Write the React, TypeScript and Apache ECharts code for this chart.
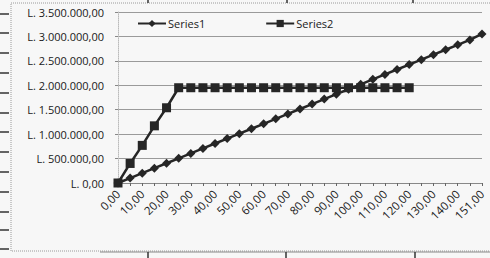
import React, { useEffect, useRef } from "react";
import * as echarts from "echarts";

const categories = [0, 5, 10, 15, 20, 25, 30, 35, 40, 45, 50, 55, 60, 65, 70, 75, 80, 85, 90, 95, 100, 105, 110, 115, 120, 125, 130, 135, 140, 145, 151];
const series1 = [0, 101000, 202000, 303000, 404000, 505000, 606000, 707000, 808000, 909000, 1010000, 1111000, 1212000, 1313000, 1414000, 1515000, 1616000, 1717000, 1818000, 1919000, 2020000, 2121000, 2222000, 2323000, 2424000, 2525000, 2626000, 2727000, 2828000, 2929000, 3050000];
const series2 = [0, 400000, 770000, 1170000, 1540000, 1950000, 1950000, 1950000, 1950000, 1950000, 1950000, 1950000, 1950000, 1950000, 1950000, 1950000, 1950000, 1950000, 1950000, 1950000, 1950000, 1950000, 1950000, 1950000, 1950000];
const seriesNames = ["Series1", "Series2"];

const FONT = "Open Sans";

function fmtNum(v: number, decimals = 2): string {
  const fixed = Math.abs(v).toFixed(decimals);
  const [intPart, dec] = fixed.split(".");
  const withDots = intPart.replace(/\B(?=(\d{3})+(?!\d))/g, ".");
  return (v < 0 ? "-" : "") + withDots + (dec ? "," + dec : "");
}

export default function App() {
  const ref = useRef<HTMLDivElement>(null);
  useEffect(() => {
    if (!ref.current) return;
    const chart = echarts.init(ref.current, null, { renderer: "svg" });
    const rowLines = [14, 33, 53, 73, 93, 113, 132, 152, 172, 192, 212, 230, 249];
    const graphics: any[] = [
      {
        type: "rect",
        shape: { x: 11, y: 3, width: 490, height: 248 },
        style: { fill: "none", stroke: "#9a9a9a", lineWidth: 1, lineDash: [1, 1] },
        silent: true,
      },
      ...rowLines.map((y) => ({
        type: "line",
        shape: { x1: 0, y1: y, x2: 9, y2: y },
        style: { stroke: "#333", lineWidth: 1.5 },
        silent: true,
      })),
      {
        type: "line",
        shape: { x1: 100, y1: 252, x2: 490, y2: 252 },
        style: { stroke: "#888", lineWidth: 1 },
        silent: true,
      },
      ...[148, 286, 415].map((x) => ({
        type: "line",
        shape: { x1: x, y1: 252, x2: x, y2: 258 },
        style: { stroke: "#333", lineWidth: 1.5 },
        silent: true,
      })),
      ...[148, 287, 413].map((x) => ({
        type: "line",
        shape: { x1: x, y1: 0, x2: x, y2: 3 },
        style: { stroke: "#333", lineWidth: 1.5 },
        silent: true,
      })),
    ];
    chart.setOption({
      animation: false,
      backgroundColor: "#f7f7f7",
      textStyle: { fontFamily: FONT },
      graphic: graphics,
      legend: {
        left: 132,
        top: 13,
        itemWidth: 28,
        itemHeight: 9,
        itemGap: 60,
        textStyle: { fontFamily: FONT, fontSize: 11, color: "#1a1a1a", padding: [0, 0, 0, -3] },
        data: seriesNames,
      },
      grid: { left: 118, right: 8, top: 12, bottom: 75, outerBoundsMode: "none", containLabel: false },
      xAxis: {
        type: "category",
        boundaryGap: false,
        data: categories.map((c) => fmtNum(c)),
        axisLine: { lineStyle: { color: "#888", width: 1 } },
        axisTick: { show: true, interval: 0, length: 3, lineStyle: { color: "#666" } },
        axisLabel: {
          interval: 1,
          rotate: 45,
          fontFamily: FONT,
          fontSize: 11.5,
          color: "#1a1a1a",
          margin: 9,
        },
        splitLine: { show: false },
      },
      yAxis: {
        type: "value",
        min: 0,
        max: 3500000,
        interval: 500000,
        axisLine: { show: true, lineStyle: { color: "#bbb", type: "dotted" } },
        axisTick: { show: true, length: 3, lineStyle: { color: "#888" } },
        axisLabel: {
          fontFamily: FONT,
          fontSize: 11,
          color: "#1a1a1a",
          margin: 14,
          formatter: (v: number) => "L. " + fmtNum(v),
        },
        splitLine: { show: true, lineStyle: { color: "#9a9a9a", width: 1 } },
      },
      series: [
        {
          name: seriesNames[0],
          type: "line",
          data: series1,
          symbol: "diamond",
          symbolSize: 9,
          showAllSymbol: true,
          lineStyle: { color: "#262626", width: 2.5 },
          itemStyle: { color: "#262626" },
        },
        {
          name: seriesNames[1],
          type: "line",
          data: series2,
          symbol: "rect",
          symbolSize: 9,
          showAllSymbol: true,
          lineStyle: { color: "#262626", width: 2.5 },
          itemStyle: { color: "#262626" },
        },
      ],
    });
    return () => chart.dispose();
  }, []);
  return (
    <div
      ref={ref}
      style={{ position: "fixed", left: 0, top: 0, width: 490, height: 258 }}
    />
  );
}
